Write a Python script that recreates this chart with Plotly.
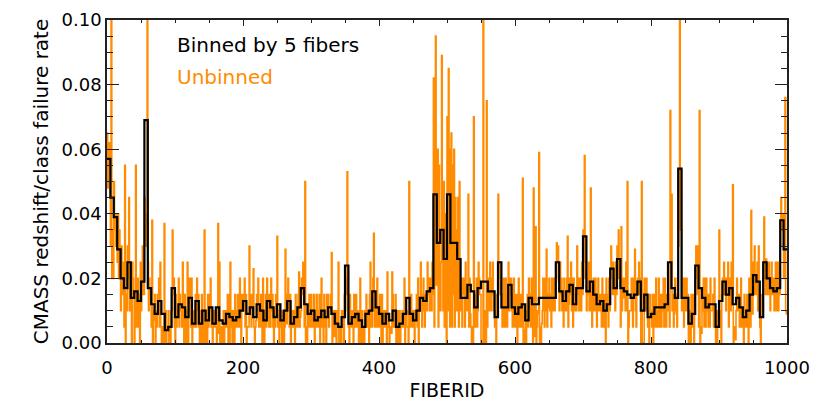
import plotly.graph_objects as go

# ---------------- data (failure rate in units of 0.001) ----------------
bin_width = 5
n_fibers = 1000

binned_000_499 = [
    57, 45, 39, 29, 20, 17, 25, 14, 16, 13, 19, 69, 17, 12, 9, 13, 9, 4, 5, 17,
    8, 12, 11, 8, 14, 6, 13, 6, 10, 7, 11, 6, 11, 7, 6, 9, 8, 7, 8, 10,
    13, 9, 11, 8, 12, 10, 7, 13, 11, 8, 12, 7, 10, 13, 6, 8, 11, 17, 12, 9,
    10, 7, 8, 10, 8, 11, 9, 6, 5, 8, 24, 6, 8, 9, 7, 5, 9, 10, 16, 11,
    9, 6, 9, 7, 10, 5, 6, 9, 14, 9, 7, 10, 14, 13, 16, 17, 46, 31, 35, 26,
]
binned_500_999 = [
    46, 31, 31, 26, 14, 14, 18, 16, 11, 17, 19, 19, 16, 16, 8, 25, 11, 11, 18, 11,
    9, 11, 12, 7, 14, 12, 12, 14, 14, 14, 14, 14, 25, 16, 13, 16, 18, 12, 17, 17,
    33, 16, 19, 15, 12, 13, 10, 12, 23, 17, 26, 17, 16, 15, 14, 15, 19, 10, 15, 8,
    9, 11, 11, 11, 12, 25, 17, 14, 54, 14, 14, 6, 9, 24, 17, 14, 11, 12, 12, 5,
    13, 19, 15, 17, 12, 14, 11, 8, 10, 15, 21, 19, 8, 25, 20, 17, 16, 17, 38, 29,
]

unbinned_000_099 = [
    65, 48, 55, 62, 55, 30, 120, 20, 35, 20, 50, 35, 40, 30, 40, 25, 40, 20, 35, 25,
    10, 30, 15, 25, 20, 5, 55, 0, 15, 10, 30, 20, 45, 10, 20, 10, 0, 25, 20, 15,
    0, 10, 55, 5, 10, 20, 5, 15, 0, 25, 10, 25, 30, 15, 15, 45, 40, 30, 30, 200,
    25, 10, 20, 15, 15, 5, 38, 0, 10, 7, 15, 0, 10, 5, 15, 10, 20, 5, 25, 5,
    0, 5, 0, 3, 37, 0, 10, 0, 5, 5, 10, 0, 5, 0, 10, 10, 35, 15, 20, 5,
]
unbinned_100_199 = [
    0, 15, 5, 10, 10, 20, 5, 15, 10, 10, 5, 25, 10, 0, 15, 10, 0, 5, 25, 0,
    10, 20, 15, 5, 20, 0, 10, 5, 10, 5, 15, 5, 20, 10, 15, 5, 0, 10, 0, 15,
    5, 0, 10, 35, 0, 10, 5, 0, 15, 5, 15, 10, 20, 5, 5, 0, 10, 5, 10, 5,
    5, 0, 10, 37, 3, 25, 0, 5, 5, 0, 5, 10, 0, 10, 5, 10, 5, 15, 0, 15,
    0, 25, 5, 10, 0, 10, 5, 0, 15, 5, 5, 10, 15, 5, 5, 20, 5, 0, 15, 10,
]
unbinned_200_299 = [
    15, 10, 20, 5, 15, 0, 5, 5, 5, 30, 10, 15, 5, 15, 10, 23, 5, 0, 5, 7,
    15, 10, 20, 5, 10, 5, 15, 10, 0, 20, 10, 0, 5, 15, 5, 20, 10, 15, 5, 15,
    5, 20, 10, 15, 5, 0, 10, 5, 15, 10, 33, 5, 10, 0, 12, 5, 10, 0, 10, 10,
    0, 5, 29, 10, 6, 15, 20, 10, 5, 15, 0, 10, 5, 5, 10, 10, 0, 15, 5, 10,
    5, 15, 22, 5, 8, 10, 20, 15, 25, 15, 5, 50, 0, 5, 0, 10, 5, 15, 5, 10,
]
unbinned_300_399 = [
    15, 5, 10, 5, 15, 0, 10, 5, 15, 5, 10, 5, 15, 0, 10, 20, 5, 10, 0, 15,
    5, 10, 0, 15, 10, 15, 5, 10, 10, 15, 28, 0, 5, 10, 2, 5, 10, 0, 10, 5,
    25, 0, 0, 5, 0, 10, 5, 10, 0, 15, 10, 20, 15, 53, 22, 5, 0, 15, 5, 5,
    10, 5, 0, 15, 10, 5, 15, 10, 5, 10, 0, 10, 20, 0, 5, 10, 0, 5, 0, 10,
    5, 15, 10, 5, 10, 0, 15, 25, 5, 5, 10, 20, 34, 5, 11, 15, 5, 20, 10, 5,
]
unbinned_400_499 = [
    5, 15, 10, 0, 15, 0, 10, 5, 10, 5, 10, 0, 22, 5, 8, 0, 5, 5, 3, 22,
    15, 5, 10, 5, 15, 0, 5, 10, 0, 10, 10, 0, 5, 5, 10, 5, 10, 20, 0, 10,
    10, 5, 5, 0, 50, 10, 5, 15, 5, 10, 5, 10, 0, 10, 10, 15, 5, 20, 0, 10,
    10, 25, 15, 5, 15, 20, 10, 5, 15, 15, 10, 25, 15, 20, 10, 15, 20, 10, 25, 15,
    82, 5, 30, 95, 18, 25, 60, 5, 55, 10, 10, 25, 89, 41, 10, 50, 5, 35, 40, 0,
]
unbinned_500_599 = [
    70, 10, 85, 60, 5, 15, 65, 5, 55, 15, 60, 5, 45, 10, 35, 10, 45, 5, 50, 20,
    10, 20, 5, 15, 20, 15, 5, 25, 10, 15, 10, 46, 5, 20, 9, 5, 0, 5, 0, 70,
    15, 5, 10, 20, 5, 10, 25, 20, 15, 15, 0, 0, 0, 110, 0, 10, 5, 0, 75, 5,
    20, 10, 15, 25, 10, 10, 20, 25, 15, 10, 5, 10, 0, 15, 10, 46, 20, 25, 15, 19,
    15, 5, 10, 20, 5, 5, 20, 10, 5, 15, 25, 10, 20, 15, 20, 10, 5, 15, 20, 5,
]
unbinned_600_699 = [
    5, 15, 10, 0, 15, 20, 5, 10, 15, 5, 5, 51, 0, 0, 4, 10, 0, 5, 15, 5,
    20, 10, 15, 5, 20, 5, 0, 48, 5, 2, 36, 0, 5, 10, 9, 59, 0, 5, 0, 6,
    10, 20, 15, 5, 20, 10, 29, 5, 15, 11, 20, 10, 15, 5, 20, 10, 15, 20, 10, 15,
    20, 31, 25, 30, 19, 10, 25, 15, 20, 10, 15, 5, 20, 10, 15, 10, 20, 33, 5, 12,
    20, 15, 25, 10, 20, 5, 20, 10, 15, 10, 10, 30, 15, 20, 10, 20, 15, 10, 25, 15,
]
unbinned_700_799 = [
    35, 25, 58, 20, 27, 10, 20, 15, 25, 10, 15, 48, 10, 5, 17, 20, 10, 15, 20, 10,
    5, 15, 20, 10, 10, 15, 10, 5, 20, 15, 5, 15, 10, 0, 20, 15, 10, 5, 20, 10,
    20, 30, 25, 15, 25, 15, 20, 10, 25, 15, 30, 20, 35, 25, 20, 5, 36, 10, 20, 14,
    15, 20, 10, 25, 10, 50, 0, 5, 10, 10, 10, 20, 15, 5, 20, 15, 29, 10, 5, 16,
    20, 15, 25, 20, 15, 0, 50, 0, 0, 0, 20, 10, 15, 20, 10, 5, 10, 0, 15, 10,
]
unbinned_800_899 = [
    10, 5, 15, 0, 15, 15, 5, 20, 10, 5, 10, 20, 5, 15, 5, 5, 15, 10, 20, 5,
    20, 10, 5, 15, 10, 10, 15, 5, 72, 23, 46, 10, 15, 5, 9, 20, 10, 15, 5, 20,
    30, 40, 130, 35, 35, 10, 20, 15, 5, 20, 15, 10, 20, 10, 15, 0, 10, 5, 0, 15,
    10, 5, 15, 0, 15, 20, 30, 25, 15, 30, 5, 72, 0, 5, 3, 15, 10, 20, 5, 20,
    5, 20, 10, 15, 5, 15, 5, 20, 10, 10, 10, 15, 5, 20, 10, 0, 10, 0, 5, 10,
]
unbinned_900_999 = [
    35, 5, 10, 0, 15, 20, 15, 25, 20, 15, 10, 20, 15, 25, 5, 15, 20, 10, 25, 15,
    49, 0, 5, 5, 1, 10, 20, 15, 10, 15, 5, 15, 20, 5, 10, 10, 0, 15, 5, 10,
    5, 15, 10, 0, 20, 10, 5, 41, 10, 9, 25, 15, 30, 20, 15, 15, 25, 10, 30, 15,
    5, 0, 15, 10, 10, 20, 39, 25, 15, 26, 25, 15, 20, 25, 15, 10, 20, 25, 15, 15,
    20, 10, 15, 25, 10, 15, 25, 10, 20, 15, 30, 45, 35, 40, 40, 20, 30, 76, 10, 9,
]

x_ticks = [0, 200, 400, 600, 800, 1000]
y_ticks = [0.00, 0.02, 0.04, 0.06, 0.08, 0.10]

# ---------------- assemble ----------------
unbinned = (unbinned_000_099 + unbinned_100_199 + unbinned_200_299 + unbinned_300_399
            + unbinned_400_499 + unbinned_500_599 + unbinned_600_699 + unbinned_700_799
            + unbinned_800_899 + unbinned_900_999)
binned = binned_000_499 + binned_500_999

unb_y = [v / 1000.0 for v in unbinned] + [unbinned[-1] / 1000.0]
unb_x = list(range(n_fibers + 1))
bin_y = [v / 1000.0 for v in binned] + [binned[-1] / 1000.0]
bin_x = [i * bin_width for i in range(len(binned) + 1)]

ORANGE = "rgb(255,140,0)"
FONT = "DejaVu Sans"

fig = go.Figure()
fig.add_trace(go.Scatter(x=unb_x, y=unb_y, mode="lines", line=dict(color=ORANGE, width=1.6, shape="hv"),
                         showlegend=False, hoverinfo="skip"))
fig.add_trace(go.Scatter(x=bin_x, y=bin_y, mode="lines", line=dict(color="black", width=2.2, shape="hv"),
                         showlegend=False, hoverinfo="skip"))

fig.add_annotation(xref="paper", yref="paper", x=0.1, y=0.922, xanchor="left", yanchor="middle",
                   text="Binned by 5 fibers", showarrow=False, font=dict(family=FONT, size=20, color="black"))
fig.add_annotation(xref="paper", yref="paper", x=0.1, y=0.824, xanchor="left", yanchor="middle",
                   text="Unbinned", showarrow=False, font=dict(family=FONT, size=20, color=ORANGE))

axis_common = dict(showline=True, linecolor="#222", linewidth=1.5, mirror="ticks", ticks="inside",
                   tickcolor="#222", showgrid=False, zeroline=False, automargin=False,
                   tickfont=dict(family=FONT, size=18, color="black"))

fig.update_xaxes(range=[0, 1000], tickvals=x_ticks, ticklen=6, tickwidth=1.2, ticklabelstandoff=8,
                 minor=dict(tickvals=list(range(0, 1001, 50)), ticklen=3, ticks="inside", tickcolor="#222"),
                 title=dict(text="FIBERID", font=dict(family=FONT, size=19, color="black"), standoff=6),
                 **axis_common)
fig.update_yaxes(range=[0, 0.1], tickvals=y_ticks, tickformat=".2f", ticklen=12, tickwidth=1.2,
                 minor=dict(dtick=0.005, ticklen=6, ticks="inside", tickcolor="#222"),
                 title=dict(text="CMASS redshift/class failure rate", font=dict(family=FONT, size=20, color="black"),
                            standoff=8),
                 **axis_common)

# the page adds an 8 px body margin, so margins are offset by 8 px
fig.update_layout(width=830, height=415, margin=dict(l=99, r=51, t=12, b=80),
                  plot_bgcolor="white", paper_bgcolor="white")

fig.write_html("out.html")
